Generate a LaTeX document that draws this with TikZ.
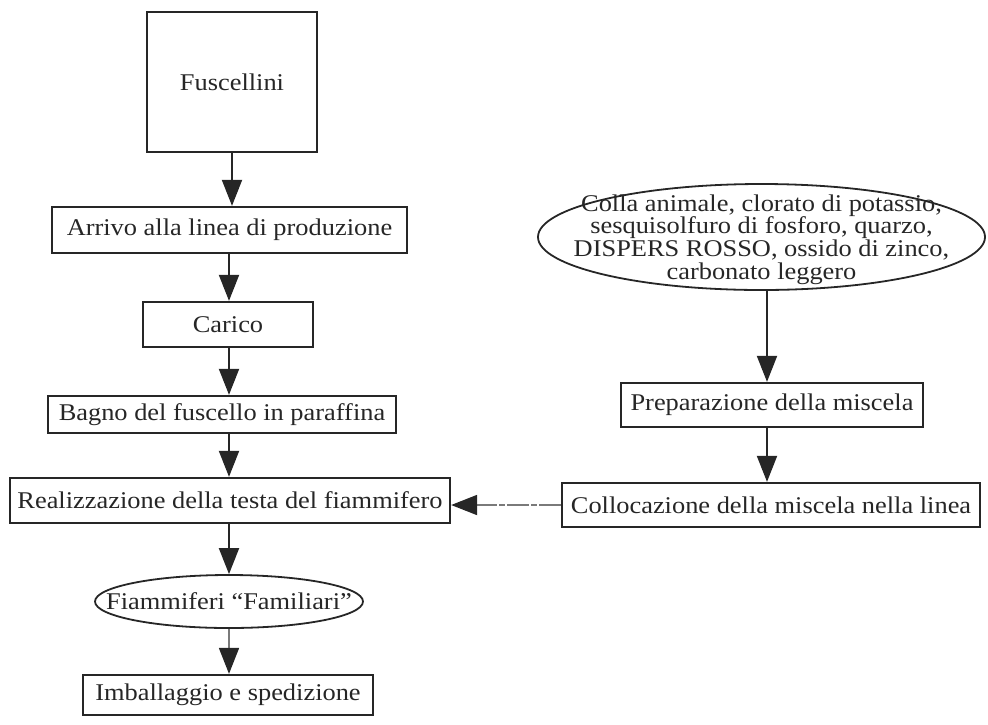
\documentclass[tikz,border=0pt]{standalone}
\usepackage{fontspec}
\setmainfont{Liberation Serif}[FakeStretch=1.1]
\usetikzlibrary{arrows.meta,shapes.geometric}
\definecolor{ink}{HTML}{262626}
\definecolor{faint}{HTML}{7A7A7A}
\newcommand\mytightlines{\lineskiplimit=-100pt\relax\lineskip=0pt\relax}
\tikzset{
  box/.style={draw=ink, line width=2.3pt, rectangle, inner sep=0pt, anchor=center},
  oval/.style={draw=ink, line width=1.8pt, ellipse, inner sep=0pt},
  lbl/.style={inner sep=0pt, align=center, text=ink, font=\fontsize{24}{22.7}\selectfont},
  biglbl/.style={lbl, font=\fontsize{24}{22.7}\selectfont\mytightlines},
  flow/.style={draw=ink, line width=2pt, -{Triangle[width=20pt,length=26pt]}},
  faintflow/.style={draw=faint, line width=1.8pt, dash pattern=on 22pt off 2pt on 6pt off 2pt, -{Triangle[width=20pt,length=26pt,color=ink]}}
}
\begin{document}
\begin{tikzpicture}[x=1pt,y=-1pt]
\useasboundingbox (0,0) rectangle (988,724);
% left column
\node[box, minimum width=170pt, minimum height=140pt] (fusc) at (232,82) {};
\node[lbl] (fusct) at (fusc.center) {Fuscellini};
\node[box, minimum width=355pt, minimum height=46pt] (arrivo) at (229.5,230) {};
\node[lbl] (arrivot) at (arrivo.center) {Arrivo alla linea di produzione};
\node[box, minimum width=170pt, minimum height=45pt] (carico) at (228,324.5) {};
\node[lbl] (caricot) at (carico.center) {Carico};
\node[box, minimum width=348pt, minimum height=37pt] (bagno) at (222,414.5) {};
\node[lbl] (bagnot) at (bagno.center) {Bagno del fuscello in paraffina};
\node[box, minimum width=440pt, minimum height=45pt] (realiz) at (230,500.5) {};
\node[lbl] (realizt) at (realiz.center) {Realizzazione della testa del fiammifero};
\node[oval, minimum width=268pt, minimum height=53pt] (famil) at (229,601.5) {};
\node[lbl] (familt) at (famil.center) {Fiammiferi “Familiari”};
\node[box, minimum width=290pt, minimum height=40pt] (imball) at (228,695) {};
\node[lbl] (imballt) at (imball.center) {Imballaggio e spedizione};
% right column
\node[oval, minimum width=447pt, minimum height=106pt] (mix) at (761.5,237) {};
\node[biglbl] (mixt) at ([yshift=-2.5pt]mix.center) {Colla animale, clorato di potassio,\\ sesquisolfuro di fosforo, quarzo,\\ DISPERS ROSSO, ossido di zinco,\\ carbonato leggero};
\node[box, minimum width=302pt, minimum height=44pt] (prep) at (772,405) {};
\node[lbl] (prept) at (prep.center) {Preparazione della miscela};
\node[box, minimum width=418pt, minimum height=44pt] (colloc) at (771,505) {};
\node[lbl] (colloct) at (colloc.center) {Collocazione della miscela nella linea};
% connector columns
\coordinate (lx) at (229,0);
\coordinate (rx) at (767,0);
% connectors
\draw[flow] (fusc.south) -- (fusc.south |- arrivo.north);
\draw[flow] (lx |- arrivo.south) -- (lx |- carico.north);
\draw[flow] (lx |- carico.south) -- (lx |- bagno.north);
\draw[flow] (lx |- bagno.south) -- (lx |- realiz.north);
\draw[flow] (lx |- realiz.south) -- (lx |- famil.north);
\draw[faintflow] (lx |- famil.south) -- (lx |- imball.north);
\draw[flow] (rx |- mix.south) -- (rx |- prep.north);
\draw[flow] (rx |- prep.south) -- (rx |- colloc.north);
\draw[faintflow] (colloc.west) -- (colloc.west -| realiz.east);
\end{tikzpicture}
\end{document}
